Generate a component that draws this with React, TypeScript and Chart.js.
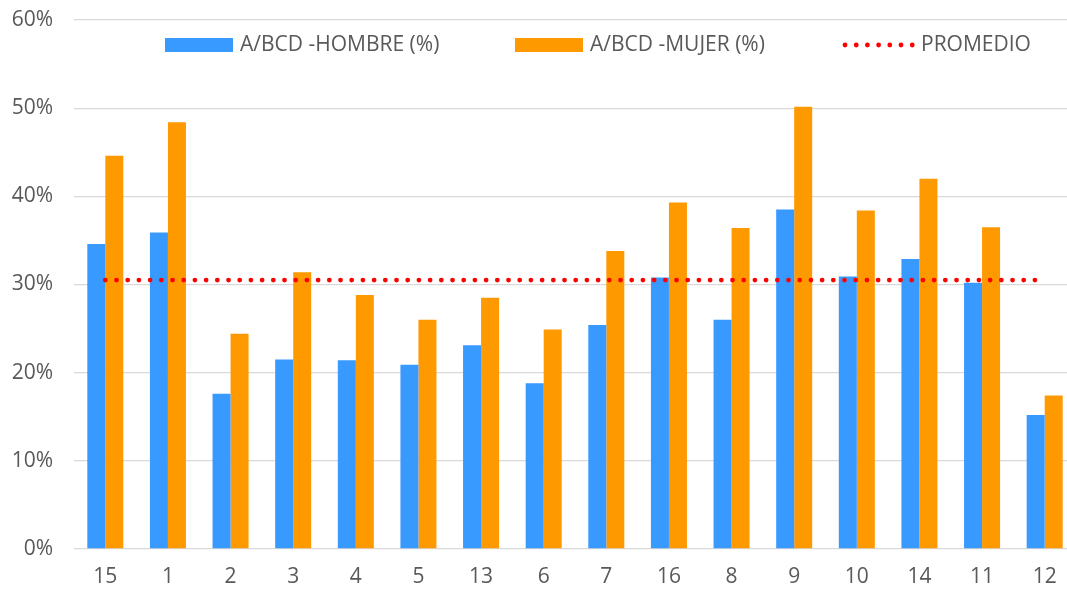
import React, { useEffect, useRef } from "react";
import { Chart, registerables } from "chart.js";

Chart.register(...registerables);

const categories = ["15", "1", "2", "3", "4", "5", "13", "6", "7", "16", "8", "9", "10", "14", "11", "12"];
const hombre = [34.6, 35.9, 17.6, 21.5, 21.4, 20.9, 23.1, 18.8, 25.4, 30.8, 26.0, 38.5, 30.9, 32.9, 30.2, 15.2];
const mujer = [44.6, 48.4, 24.4, 31.4, 28.8, 26.0, 28.5, 24.9, 33.8, 39.3, 36.4, 50.15, 38.4, 42.0, 36.5, 17.4];
const promedio = [30.5, 30.5, 30.5, 30.5, 30.5, 30.5, 30.5, 30.5, 30.5, 30.5, 30.5, 30.5, 30.5, 30.5, 30.5, 30.5];
const yTicks = [0, 10, 20, 30, 40, 50, 60];

const labelHombre = "A/BCD -HOMBRE (%)";
const labelMujer = "A/BCD -MUJER (%)";
const labelPromedio = "PROMEDIO";

const BLUE = "#3899FF";
const ORANGE = "#FF9900";
const RED = "#FF0000";
const TEXT = "#595959";
const GRID = "#D9D9D9";
const FONT = "'Open Sans', 'DejaVu Sans', sans-serif";

const legendPlugin = {
  id: "customLegend",
  afterDraw(chart: any) {
    const ctx = chart.ctx;
    const ds = chart.data.datasets;
    const y = 45;
    ctx.save();
    ctx.font = `21px ${FONT}`;
    ctx.textBaseline = "middle";
    ctx.textAlign = "left";
    // item 1
    ctx.fillStyle = ds[0].backgroundColor;
    ctx.fillRect(165, 38, 68, 14);
    ctx.fillStyle = TEXT;
    ctx.fillText(ds[0].label, 240, y);
    // item 2
    ctx.fillStyle = ds[1].backgroundColor;
    ctx.fillRect(515, 38, 68, 14);
    ctx.fillStyle = TEXT;
    ctx.fillText(ds[1].label, 590, y);
    // item 3
    ctx.fillStyle = ds[2].borderColor;
    for (let i = 0; i < 7; i++) {
      ctx.beginPath();
      ctx.arc(845 + i * 11.2, y, 2.4, 0, Math.PI * 2);
      ctx.fill();
    }
    ctx.fillStyle = TEXT;
    ctx.fillText(ds[2].label, 921, y);
    ctx.restore();
  },
};

export default function App() {
  const ref = useRef<HTMLCanvasElement | null>(null);
  useEffect(() => {
    if (!ref.current) return;
    const chart = new Chart(ref.current, {
      type: "bar",
      data: {
        labels: categories,
        datasets: [
          {
            type: "bar",
            label: labelHombre,
            data: hombre,
            backgroundColor: BLUE,
            borderWidth: 0,
            order: 2,
          },
          {
            type: "bar",
            label: labelMujer,
            data: mujer,
            backgroundColor: ORANGE,
            borderWidth: 0,
            order: 2,
          },
          {
            type: "line",
            label: labelPromedio,
            data: promedio,
            borderColor: RED,
            backgroundColor: RED,
            borderWidth: 4.8,
            borderDash: [0, 11.2],
            borderCapStyle: "round",
            pointRadius: 0,
            fill: false,
            order: 1,
          } as any,
        ],
      },
      options: {
        animation: false,
        responsive: true,
        maintainAspectRatio: false,
        layout: { padding: { top: 20, right: 0, left: 0, bottom: 0 } },
        plugins: {
          legend: { display: false },
          tooltip: { enabled: false },
        },
        datasets: {
          bar: { categoryPercentage: 0.575, barPercentage: 1 },
        },
        scales: {
          x: {
            offset: true,
            grid: { display: false, drawTicks: false },
            border: { display: false },
            ticks: {
              color: TEXT,
              font: { family: FONT, size: 21 },
              padding: 15,
              maxRotation: 0,
            },
            afterFit(scale: any) {
              scale.height = 43;
              scale.paddingLeft = 0;
              scale.paddingRight = 0;
            },
          },
          y: {
            min: 0,
            max: 60,
            afterBuildTicks(scale: any) {
              scale.ticks = yTicks.map((v) => ({ value: v }));
            },
            grid: { color: GRID, lineWidth: 1.3, drawTicks: false },
            border: { display: false },
            ticks: {
              color: TEXT,
              font: { family: FONT, size: 21 },
              padding: 21,
              callback: (v: any) => `${v}%`,
            },
            afterFit(scale: any) {
              scale.width = 74;
              scale.paddingTop = 0;
              scale.paddingBottom = 0;
            },
          },
        },
      },
      plugins: [legendPlugin],
    });
    return () => chart.destroy();
  }, []);

  return (
    <div style={{ position: "fixed", left: 0, top: 0, width: 1067, height: 592, overflow: "hidden", background: "#fff" }}>
      <div style={{ position: "relative", width: 1076, height: 592 }}>
        <canvas ref={ref} />
      </div>
    </div>
  );
}
